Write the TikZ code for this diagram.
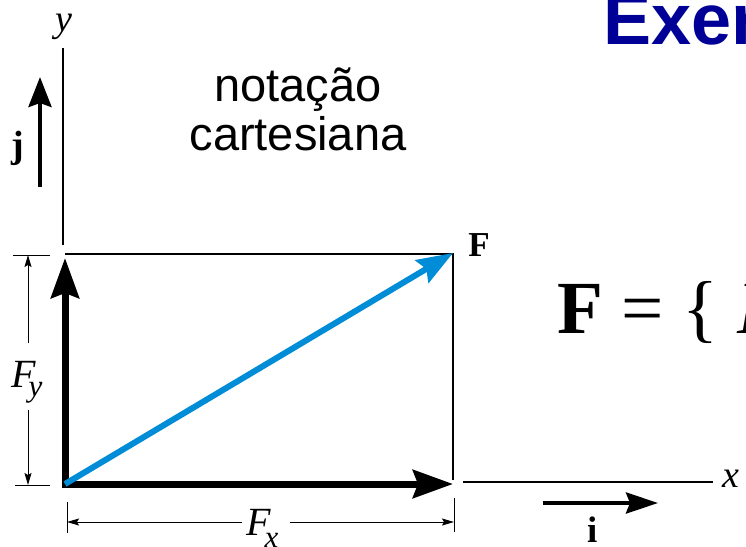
\documentclass[tikz,border=0pt]{standalone}
\usepackage{fontspec}
\setmainfont{Liberation Serif}
\newfontfamily\arialfont{Liberation Sans}
\usetikzlibrary{arrows.meta}
\definecolor{vecblue}{RGB}{0,140,214}
\definecolor{titleblue}{RGB}{0,0,150}
\begin{document}
\begin{tikzpicture}[x=1pt,y=-1pt,
  thinline/.style={line width=1.4pt, black},
  dimline/.style={line width=1pt, black, -{Stealth[length=12pt,width=7pt,inset=2pt]}},
  bigvec/.style={line width=7pt, black, line cap=rect, -{Stealth[length=40pt,width=28pt,inset=5pt]}},
  bluevec/.style={line width=6pt, vecblue, -{Stealth[length=36pt,width=26pt,inset=5pt]}},
  unitvec/.style={line width=4pt, black, -{Stealth[length=30pt,width=23pt,inset=4pt]}},
  lbl/.style={inner sep=0pt, anchor=base},
]
\useasboundingbox (0,0) rectangle (746,546);
\clip (0,0) rectangle (746,546);

% key points
\coordinate (O) at (65,484);
\coordinate (Xtip) at (453,484);
\coordinate (Ytip) at (65,258);
\coordinate (Ftip) at (453,253);
\coordinate (RTL) at (65,254);
\coordinate (RTR) at (453,254);
\coordinate (RBR) at (453,480);
\coordinate (yaxB) at (63,245);
\coordinate (yaxT) at (63,48);
\coordinate (xaxL) at (463,482);
\coordinate (xaxR) at (713,482);
\coordinate (jB) at (40,187);
\coordinate (jT) at (40,77);
\coordinate (iL) at (543,503);
\coordinate (iR) at (658,503);

% title and formula (cut by the frame)
\node[lbl, anchor=base west, text=titleblue, font=\arialfont\bfseries\fontsize{72}{72}\selectfont] (title) at (603,44) {Exer};
\node[lbl, anchor=base west, font=\fontsize{75}{75}\selectfont] (formula) at (557,333) {\textbf{F} = \{ \textit{F}};

% caption
\node[inner sep=0pt, align=center, font=\arialfont\fontsize{47}{49}\selectfont] (caption) at (298,109) {notação\\cartesiana};

% axes
\draw[thinline] (yaxB) -- (yaxT);
\node[lbl, font=\fontsize{38}{38}\selectfont\itshape] (ylab) at (64,31) {y};
\draw[thinline] (xaxL) -- (xaxR);
\node[lbl, font=\fontsize{38}{38}\selectfont\itshape] (xlab) at (731,487) {x};

% unit vectors
\draw[unitvec] (jB) -- (jT);
\node[lbl, font=\fontsize{38}{38}\selectfont\bfseries] (jlab) at (18,157) {j};
\draw[unitvec, -{Stealth[length=32pt,width=21pt,inset=4pt]}] (iL) -- (iR);
\node[lbl, font=\fontsize{37}{37}\selectfont\bfseries] (ilab) at (593,542) {i};

% rectangle
\draw[thinline] (RTL) -- (RTR) -- (RBR);

% components and resultant
\draw[bigvec] (O) -- (Xtip);
\draw[bigvec] (O) -- (Ytip);
\draw[bluevec] (O) -- (Ftip);
\node[lbl, font=\fontsize{35}{35}\selectfont\bfseries] (Flab) at (479,256) {F};

% Fy dimension
\coordinate (fyT1) at (13,255);
\coordinate (fyT2) at (50,255);
\coordinate (fyB1) at (15,485);
\coordinate (fyB2) at (50,485);
\coordinate (fyTop) at (28,255);
\coordinate (fyBot) at (28,485);
\draw[line width=1pt] (fyT1) -- (fyT2);
\draw[line width=1pt] (fyB1) -- (fyB2);
\node[lbl, anchor=base west, font=\fontsize{40}{40}\selectfont\itshape] (fylab) at (11,387) {F\kern-7pt\raisebox{-9pt}{\fontsize{31}{31}\selectfont y}};
\coordinate (fyGapT) at (28,343);
\coordinate (fyGapB) at (28,410);
\draw[dimline] (fyGapT) -- (fyTop);
\draw[dimline] (fyGapB) -- (fyBot);

% Fx dimension
\coordinate (fxL1) at (67,502);
\coordinate (fxL2) at (67,533);
\coordinate (fxR1) at (454,498);
\coordinate (fxR2) at (454,532);
\coordinate (fxLeft) at (67,522);
\coordinate (fxRight) at (454,522);
\draw[line width=1pt] (fxL1) -- (fxL2);
\draw[line width=1pt] (fxR1) -- (fxR2);
\node[lbl, anchor=base west, font=\fontsize{40}{40}\selectfont\itshape] (fxlab) at (246,535) {F\kern-6pt\raisebox{-12pt}{\fontsize{31}{31}\selectfont x}};
\coordinate (fxGapL) at (242,522);
\coordinate (fxGapR) at (290,522);
\draw[dimline] (fxGapL) -- (fxLeft);
\draw[dimline] (fxGapR) -- (fxRight);
\end{tikzpicture}
\end{document}
